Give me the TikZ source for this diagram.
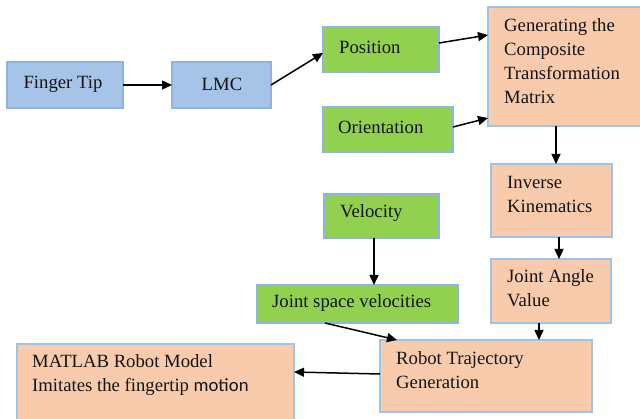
\documentclass[tikz,border=0pt]{standalone}
\usepackage{fontspec}
\setmainfont{Liberation Serif}
\newfontfamily\calfont{Carlito}
\usetikzlibrary{arrows.meta,calc}
\definecolor{bluefill}{HTML}{A6C4E8}
\definecolor{blueedge}{HTML}{8EB4E3}
\definecolor{greenfill}{HTML}{92D050}
\definecolor{orangefill}{HTML}{F8CBAD}
\definecolor{orangeedge}{HTML}{9DC3E6}
\tikzset{
  boxbase/.style={draw, line width=1.4pt, inner sep=0pt, outer sep=0pt},
  bluebox/.style={boxbase, fill=bluefill, draw=blueedge},
  greenbox/.style={boxbase, fill=greenfill, draw=blueedge},
  orangebox/.style={boxbase, fill=orangefill, draw=orangeedge},
  txt/.style={font=\fontsize{18.7}{24}\selectfont, inner sep=0pt, align=left, text=black!92},
  arr/.style={line width=1.5pt, -{Triangle[length=10pt,width=9pt]}}
}
\begin{document}
\begin{tikzpicture}[x=1pt,y=-1pt]
\useasboundingbox (0,0) rectangle (640,419);
\clip (0,0) rectangle (640,419);
% boxes
\node[bluebox, minimum width=116, minimum height=46] (ft) at (65,85) {};
\node[bluebox, minimum width=99, minimum height=46] (lmc) at (221.5,85) {};
\node[greenbox, minimum width=116, minimum height=45] (pos) at (381,49.5) {};
\node[greenbox, minimum width=130, minimum height=45] (ori) at (388,129.5) {};
\node[orangebox, minimum width=172, minimum height=119] (gen) at (574,66.5) {};
\node[orangebox, minimum width=121, minimum height=73] (inv) at (551.5,200.5) {};
\node[orangebox, minimum width=120, minimum height=64] (jav) at (551,291) {};
\node[greenbox, minimum width=115, minimum height=44] (vel) at (381.5,216) {};
\node[greenbox, minimum width=201, minimum height=38] (jsv) at (357.5,304) {};
\node[orangebox, minimum width=212, minimum height=72] (rtg) at (486,376) {};
\node[orangebox, minimum width=277, minimum height=96] (mat) at (155.5,392) {};
% texts
\node[txt] (ftt) at (63,84) {Finger Tip};
\node[txt] (lmct) at (222,84) {LMC};
\node[txt, anchor=west] (post) at (339,47) {Position};
\node[txt, anchor=west] (orit) at (338,127) {Orientation};
\node[txt, anchor=west] (gent) at (504,61) {Generating the\\Composite\\Transformation\\Matrix};
\node[txt, anchor=west] (invt) at (507,194.5) {Inverse\\Kinematics};
\node[txt, anchor=west] (javt) at (507,288.5) {Joint Angle\\Value};
\node[txt, anchor=west] (velt) at (340,213) {Velocity};
\node[txt, anchor=west] (jsvt) at (272,303) {Joint space velocities};
\node[txt, anchor=west] (rtgt) at (396,370.5) {Robot Trajectory\\Generation};
\node[txt, anchor=west] (matt) at (32,375.5) {MATLAB Robot Model\\Imitates the fingertip {\calfont motion}};
% connector end points
\coordinate (geninvA) at ($(inv.north)+(4.5,0)$);
\coordinate (geninvS) at (geninvA |- gen.south);
\coordinate (javrtgS) at ($(jav.south)+(-12,0)$);
\coordinate (javrtgE) at (javrtgS |- rtg.north);
% arrows
\draw[arr] (ft.east) -- (lmc.west);
\draw[arr] (lmc.east) -- ($(pos.west)+(0,3.5)$);
\draw[arr] ($(pos.east)+(0,-6.5)$) -- ($(gen.west)+(0,-31.5)$);
\draw[arr] ($(ori.east)+(0,-2.5)$) -- ($(gen.west)+(0,51.5)$);
\draw[arr] (geninvS) -- (geninvA);
\draw[arr] ($(inv.south)+(7.5,0)$) -- ($(jav.north)+(8,0)$);
\draw[arr] (javrtgS) -- (javrtgE);
\draw[arr] ($(vel.south)+(-7.5,0)$) -- ($(jsv.north)+(16.5,0)$);
\draw[arr] ($(jsv.south)+(-32.5,0)$) -- ($(rtg.north)+(-89,0)$);
\draw[arr] ($(rtg.west)+(0,-2)$) -- ($(mat.east)+(0,-20)$);
\end{tikzpicture}
\end{document}
